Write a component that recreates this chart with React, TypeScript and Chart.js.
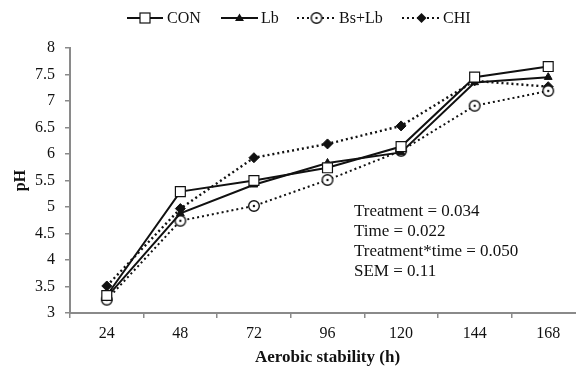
import React, { useEffect, useRef } from "react";
import { Chart, registerables } from "chart.js";

Chart.register(...registerables);

const categories = ["24", "48", "72", "96", "120", "144", "168"];
const seriesNames = ["CON", "Lb", "Bs+Lb", "CHI"];
const conValues = [3.33, 5.29, 5.5, 5.74, 6.14, 7.45, 7.65];
const lbValues = [3.3, 4.88, 5.42, 5.83, 6.03, 7.35, 7.45];
const bsLbValues = [3.25, 4.74, 5.02, 5.51, 6.06, 6.91, 7.19];
const chiValues = [3.51, 4.97, 5.93, 6.19, 6.53, 7.38, 7.27];
const annotationLines = ["Treatment = 0.034", "Time = 0.022", "Treatment*time = 0.050", "SEM = 0.11"];
const yTitle = "pH";
const xTitle = "Aerobic stability (h)";

const FONT = '"Liberation Serif", "Times New Roman", serif';
const INK = "#111";
const AXIS = "#8a8a8a";

function makeCirclePoint(): HTMLCanvasElement {
  const c = document.createElement("canvas");
  c.width = 14;
  c.height = 14;
  const ctx = c.getContext("2d")!;
  ctx.beginPath();
  ctx.arc(7, 7, 5.3, 0, Math.PI * 2);
  ctx.fillStyle = "#fff";
  ctx.fill();
  ctx.lineWidth = 1.4;
  ctx.strokeStyle = INK;
  ctx.stroke();
  ctx.beginPath();
  ctx.arc(7, 7, 1.2, 0, Math.PI * 2);
  ctx.fillStyle = INK;
  ctx.fill();
  return c;
}

function drawMarker(ctx: CanvasRenderingContext2D, kind: string, x: number, y: number, circleImg: HTMLCanvasElement) {
  ctx.save();
  ctx.strokeStyle = INK;
  ctx.fillStyle = INK;
  ctx.lineWidth = 1.2;
  if (kind === "square") {
    ctx.fillStyle = "#fff";
    ctx.fillRect(x - 5, y - 5, 10, 10);
    ctx.strokeRect(x - 5, y - 5, 10, 10);
  } else if (kind === "triangle") {
    ctx.beginPath();
    ctx.moveTo(x, y - 4.5);
    ctx.lineTo(x + 4.5, y + 3);
    ctx.lineTo(x - 4.5, y + 3);
    ctx.closePath();
    ctx.fill();
  } else if (kind === "circle") {
    ctx.drawImage(circleImg, x - 7, y - 7);
  } else if (kind === "diamond") {
    ctx.beginPath();
    ctx.moveTo(x, y - 5);
    ctx.lineTo(x + 5, y);
    ctx.lineTo(x, y + 5);
    ctx.lineTo(x - 5, y);
    ctx.closePath();
    ctx.fill();
  }
  ctx.restore();
}

export default function App() {
  const ref = useRef<HTMLCanvasElement>(null);

  useEffect(() => {
    const canvas = ref.current!;
    const circleImg = makeCirclePoint();

    const legendItems = [
      { name: seriesNames[0], kind: "square", dash: [] as number[], x1: 127, x2: 163, tx: 167 },
      { name: seriesNames[1], kind: "triangle", dash: [] as number[], x1: 221, x2: 258, tx: 261 },
      { name: seriesNames[2], kind: "circle", dash: [2, 3], x1: 297, x2: 336, tx: 339 },
      { name: seriesNames[3], kind: "diamond", dash: [2, 3], x1: 402, x2: 441, tx: 443 },
    ];

    const overlay = {
      id: "overlay",
      afterDraw(chart: any) {
        const ctx: CanvasRenderingContext2D = chart.ctx;
        ctx.save();
        const ly = 18;
        ctx.font = `16px ${FONT}`;
        ctx.textBaseline = "middle";
        ctx.textAlign = "left";
        for (const it of legendItems) {
          ctx.save();
          ctx.strokeStyle = INK;
          ctx.lineWidth = 2;
          ctx.setLineDash(it.dash);
          ctx.beginPath();
          ctx.moveTo(it.x1, ly);
          ctx.lineTo(it.x2, ly);
          ctx.stroke();
          ctx.restore();
          drawMarker(ctx, it.kind, (it.x1 + it.x2) / 2, ly, circleImg);
          ctx.fillStyle = INK;
          ctx.fillText(it.name, it.tx, ly + 1);
        }
        ctx.font = `17px ${FONT}`;
        ctx.fillStyle = INK;
        annotationLines.forEach((line, i) => {
          ctx.fillText(line, 354, 212 + i * 20);
        });
        ctx.restore();
      },
    };

    const common = {
      borderColor: INK,
      backgroundColor: INK,
      pointBorderColor: INK,
      borderWidth: 2,
      tension: 0,
      fill: false,
      pointHoverRadius: 0,
    };

    const chart = new Chart(canvas, {
      type: "line",
      data: {
        labels: categories,
        datasets: [
          {
            ...common,
            label: seriesNames[0],
            data: conValues,
            pointStyle: "rect",
            pointRadius: 7,
            pointBackgroundColor: "#fff",
            pointBorderWidth: 1.2,
          },
          {
            ...common,
            label: seriesNames[1],
            data: lbValues,
            pointStyle: "triangle",
            pointRadius: 4.5,
            pointBackgroundColor: INK,
            pointBorderWidth: 1,
          },
          {
            ...common,
            label: seriesNames[2],
            data: bsLbValues,
            borderDash: [2, 3],
            pointStyle: circleImg as any,
            pointRadius: 6,
          },
          {
            ...common,
            label: seriesNames[3],
            data: chiValues,
            borderDash: [2, 3],
            borderWidth: 2.4,
            pointStyle: "rectRot",
            pointRadius: 5,
            pointBackgroundColor: INK,
            pointBorderWidth: 1,
          },
        ],
      },
      options: {
        responsive: false,
        animation: false,
        events: [],
        layout: { padding: { top: 48, right: 15, left: 0, bottom: 0 } },
        plugins: {
          legend: { display: false },
          tooltip: { enabled: false },
          title: { display: false },
        },
        scales: {
          x: {
            type: "category",
            offset: true,
            grid: {
              offset: true,
              drawOnChartArea: false,
              drawTicks: true,
              tickLength: 5,
              color: AXIS,
              lineWidth: 1.5,
            },
            border: { color: AXIS, width: 2 },
            ticks: {
              color: INK,
              font: { family: FONT, size: 16 },
              padding: 6,
              maxRotation: 0,
            },
            title: {
              display: true,
              text: xTitle,
              color: INK,
              font: { family: FONT, size: 17, weight: "bold", lineHeight: 1 },
              padding: { top: 0, bottom: 0 },
            },
            afterFit: (s: any) => {
              s.height = 53;
            },
          },
          y: {
            min: 3,
            max: 8,
            ticks: {
              stepSize: 0.5,
              color: INK,
              font: { family: FONT, size: 16 },
              padding: 10,
              callback: (v: any) => String(Number(v)),
            },
            grid: {
              drawOnChartArea: false,
              drawTicks: true,
              tickLength: 5,
              color: AXIS,
              lineWidth: 1.5,
            },
            border: { color: AXIS, width: 2 },
            title: {
              display: true,
              text: yTitle,
              color: INK,
              font: { family: FONT, size: 16, weight: "bold" },
              padding: { top: 11, bottom: 0 },
            },
            afterFit: (s: any) => {
              s.width = 70;
            },
          },
        },
      },
      plugins: [overlay],
    });

    return () => chart.destroy();
  }, []);

  return (
    <div
      style={{
        position: "fixed",
        left: 0,
        top: 0,
        width: 576,
        height: 366,
        overflow: "hidden",
        background: "#fff",
      }}
    >
      <canvas ref={ref} width={600} height={366} style={{ display: "block" }} />
    </div>
  );
}
